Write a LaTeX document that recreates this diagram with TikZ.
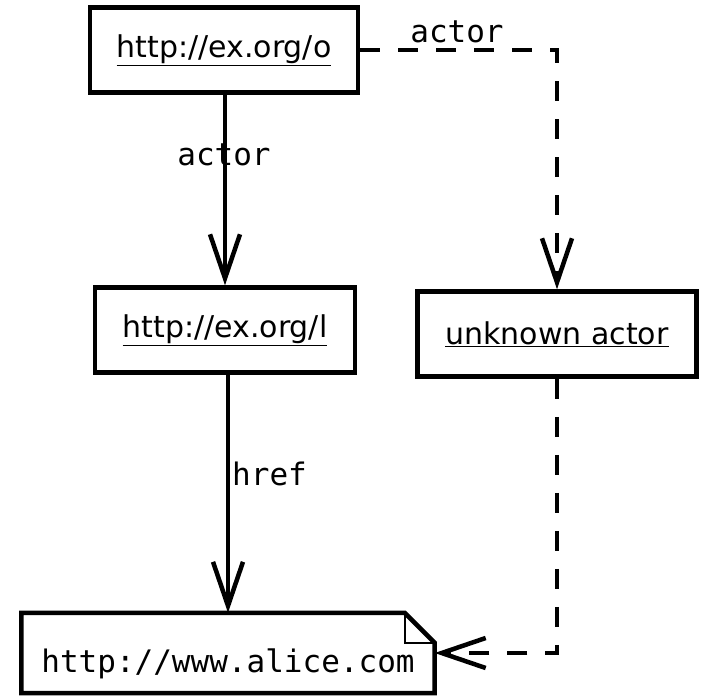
\documentclass[tikz,border=0pt]{standalone}
\usepackage{fontspec}
\setmainfont{DejaVu Sans}
\setmonofont{DejaVu Sans Mono}
\usetikzlibrary{arrows.meta,calc}

\tikzset{
	res/.style={draw,line width=4.5pt,minimum height=85pt,inner sep=0pt,font=\fontsize{30}{36}\selectfont},
	lit/.style={minimum width=413pt,minimum height=80pt,inner sep=0pt,text height=59pt,text depth=21pt,font=\ttfamily\fontsize{31}{36}\selectfont},
	rel/.style={line width=4.5pt,-{Straight Barb[length=44pt,width=30pt]}},
	guess/.style={rel,dash pattern=on 20pt off 18pt},
	lbl/.style={font=\ttfamily\fontsize{31}{36}\selectfont,inner sep=0pt}
}

\begin{document}
\begin{tikzpicture}[x=1pt,y=-1pt]
		\useasboundingbox (0,0) rectangle (708,695);
		
		% resources
		\node[res,minimum width=268pt] (o) at (224,50) {\underline{http://ex.org/o}};
		\node[res,minimum width=260pt] (l) at (225,330) {\underline{http://ex.org/l}};
		\node[res,minimum width=279pt] (unk) at (557,334) {\underline{unknown actor}};
		
		% literal with folded corner
		\node[lit] (lit) at (228,653) {http://www.alice.com};
		\draw[line width=4.5pt,line join=miter] (lit.south west) |- ($(lit.north east)+(-30,0)$)
			-- ($(lit.north east)+(0,30)$) |- cycle;
		\draw[line width=2pt] ($(lit.north east)+(-30,0)$) |- ($(lit.north east)+(0,30)$);
		
		% relations
		\draw[rel] (o.south -| 225,0) -- (l.north -| 225,0);
		\node[lbl] (a1) at (224,155) {actor};
		\draw[rel] (l.south -| 228,0) -- (lit.north -| 228,0);
		\node[lbl,anchor=west] (h) at (232,474) {href};
		\draw[guess] (o.east) -| (unk.north);
		\node[lbl] (a2) at (457,32) {actor};
		\draw[guess] (unk.south) |- (lit.east);
	\end{tikzpicture}
\end{document}
